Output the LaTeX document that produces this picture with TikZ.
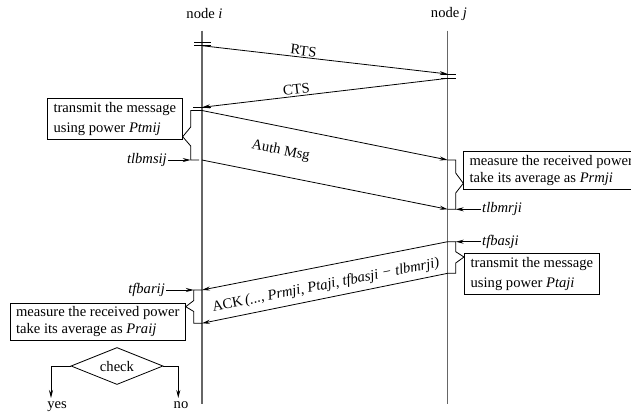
\documentclass[tikz,border=0pt]{standalone}
\usepackage{fontspec}
\setmainfont{Liberation Serif}
\usetikzlibrary{arrows.meta,shapes.geometric,calc}
\begin{document}
\begin{tikzpicture}[x=1pt,y=-1pt,
  font=\fontsize{14.6}{17.5}\selectfont,
  lifeline/.style={draw=black!60, line width=1.1pt},
  msg/.style={draw=black, line width=0.8pt, -{Stealth[length=8pt,width=4pt]}},
  bline/.style={draw=black, line width=0.8pt},
  infobox/.style={draw=black, line width=0.8pt, align=left, inner xsep=4pt, inner ysep=2pt},
  tlabel/.style={font=\fontsize{14.6}{17.5}\selectfont\itshape, inner sep=1pt},
  tallbox/.style={font=\fontsize{14.6}{20.5}\selectfont},
]
\useasboundingbox (0,0) rectangle (631,413);
\clip (0,0) rectangle (631,413);

% lifelines
\node (ni) at (204.5,14) {node \textit{i}};
\node (nj) at (449,14) {node \textit{j}};
\coordinate (itop) at (202,30.5);
\coordinate (ibot) at (202,404);
\coordinate (jtop) at (447.7,30.5);
\coordinate (jbot) at (447.7,404);
\draw[lifeline] (itop) -- (ibot);
\draw[lifeline] (jtop) -- (jbot);

% message end points
\coordinate (rtsS) at (202,45.7);
\coordinate (rtsE) at (447.7,74);
\coordinate (ctsS) at (447.7,78.3);
\coordinate (ctsE) at (202,107.3);
\coordinate (au1S) at (202,110.5);
\coordinate (au1E) at (447.7,160);
\coordinate (au2S) at (202,160);
\coordinate (au2E) at (447.7,209.3);
\coordinate (ack1S) at (447.7,241.7);
\coordinate (ack1E) at (202,290);
\coordinate (ack2S) at (447.7,273.3);
\coordinate (ack2E) at (202,323.3);

% ticks
\draw[bline] (194,42.3) -- (211,42.3);
\draw[bline] (194,45.7) -- (211,45.7);
\draw[bline] (441,74) -- (456,74);
\draw[bline] (441,78.3) -- (456,78.3);
\draw[bline] (193,107.3) -- (211,107.3);

% messages
\draw[msg] (rtsS) -- (rtsE);
\draw[msg] (ctsS) -- (ctsE);
\draw[msg] (au1S) -- (au1E);
\draw[msg] (au2S) -- (au2E);
\draw[msg] (ack1S) -- (ack1E);
\draw[msg] (ack2S) -- (ack2E);

\path (rtsS) -- (rtsE) node[sloped, above, pos=0.41, inner sep=1.5pt] (lrts) {RTS};
\path (ctsE) -- (ctsS) node[sloped, above, pos=0.387, inner sep=2pt] (lcts) {CTS};
\coordinate (am1) at ($(au1S)!0.32!(au1E)$);
\coordinate (am2) at ($(au2S)!0.32!(au2E)$);
\node[rotate=-11.5, inner sep=0pt] (lauth) at ($(am1)!0.5!(am2)$) {Auth Msg};
\coordinate (km1) at ($(ack1S)!0.496!(ack1E)$);
\coordinate (km2) at ($(ack2S)!0.496!(ack2E)$);
\node[rotate=11.2, inner sep=0pt] (lack) at ($(km1)!0.5!(km2)+(0,3.6)$)
  {ACK\,\textit{(..., Prmji, Ptaji, tfbasji − tlbmrji)}};

% boxes
\node[infobox, tallbox, minimum width=135pt, minimum height=41pt, anchor=south east] (b1)
  at (182.7,140) {transmit the message\\using power \textit{Ptmij}};
\node[infobox, minimum width=175pt, minimum height=38pt, anchor=south west] (b2)
  at (463.3,190) {measure the received power\\take its average as \textit{Prmji}};
\node[infobox, tallbox, minimum width=135pt, minimum height=41pt, anchor=north west] (b3)
  at (464,253.3) {transmit the message\\using power \textit{Ptaji}};
\node[infobox, minimum width=175pt, minimum height=37pt, anchor=north east] (b4)
  at (185.7,302.7) {measure the received power\\take its average as \textit{Praij}};

% brackets
\coordinate (bk1b) at (190.7,160);
\coordinate (bkj1b) at (455.7,209.3);
\coordinate (bkj2t) at (455.7,241.7);
\coordinate (bki2t) at (193.8,290);
\draw[bline] (au1S) -- (190.7,110.5) -- (190.7,127) -- ($(b1.south east)+(0,-3.3)$)
  -- (190.7,146) -- (bk1b) -- (199,160);
\draw[bline] (au1E) -- (455.7,160) -- (455.7,173) -- ($(b2.south west)+(0,-6.7)$)
  -- (455.7,193) -- (bkj1b) -- (au2E);
\draw[bline] (ack1S) -- (bkj2t) -- (455.7,251.7) -- ($(b3.north west)+(0,3.7)$)
  -- (455.7,263) -- (455.7,273.3) -- (ack2S);
\draw[bline] (ack1E) -- (bki2t) -- (193.8,300.5) -- ($(b4.north east)+(0,4)$)
  -- (193.8,311.5) -- (193.8,323.3) -- (ack2E);

% time labels
\node[tlabel, anchor=east] (lbmsij) at (168,160) {tlbmsij};
\node[tlabel, anchor=west] (lbmrji) at (481,209.3) {tlbmrji};
\node[tlabel, anchor=west] (fbasji) at (481,241.7) {tfbasji};
\node[tlabel, anchor=east] (fbarij) at (166,290) {tfbarij};
\draw[msg] (lbmsij.east) -- (bk1b);
\draw[msg] (lbmrji.west) -- (bkj1b);
\draw[msg] (fbasji.west) -- (bkj2t);
\draw[msg] (fbarij.east) -- (bki2t);

% check
\node[diamond, draw, line width=0.8pt, aspect=2.5, minimum width=92pt, minimum height=37pt, inner sep=0pt] (chk) at (117,366) {check};
\coordinate (ye) at (51,398);
\coordinate (ne) at (178.3,398);
\draw[msg] (chk.west) -| (ye);
\draw[msg] (chk.east) -| (ne);
\node[anchor=base, inner sep=0pt] (yes) at (57,408) {yes};
\node[anchor=base, inner sep=0pt] (no) at (181,408) {no};
\end{tikzpicture}
\end{document}
